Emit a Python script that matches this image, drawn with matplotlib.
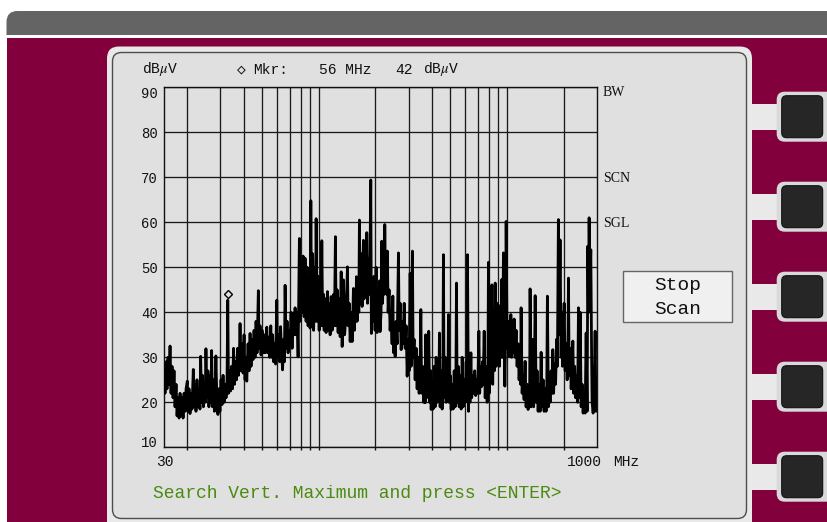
import matplotlib
matplotlib.use("Agg")
import matplotlib.pyplot as plt
from matplotlib.patches import FancyBboxPatch, Rectangle
from matplotlib.transforms import offset_copy

plt.rcParams['mathtext.fontset'] = 'stix'
MONO = ['Liberation Mono', 'DejaVu Sans Mono']
SERIF = ['Liberation Serif', 'DejaVu Serif']

# ---------------- data ----------------
trace_freq_mhz = [
    15.13, 15.22, 15.41, 15.60, 15.80, 15.99, 16.19, 16.39, 16.59, 16.80,
    17.00, 17.21, 17.43, 17.64, 17.86, 18.08, 18.30, 18.53, 18.76, 18.99,
    19.22, 19.46, 19.70, 20.00, 20.17, 20.42, 20.67, 20.93, 21.18, 21.52,
    21.70, 21.97, 22.24, 22.51, 22.79, 23.07, 23.35, 23.55, 23.78, 24.07,
    24.37, 24.67, 24.88, 25.12, 25.43, 25.74, 26.06, 26.40, 26.70, 26.93,
    27.20, 27.53, 27.87, 28.17, 28.38, 28.73, 29.09, 29.44, 29.81, 30.22,
    30.60, 30.97, 31.36, 31.74, 32.13, 32.52, 32.81, 33.13, 33.54, 33.95,
    34.37, 34.79, 35.22, 35.65, 36.09, 36.54, 36.99, 37.44, 37.80, 38.13,
    38.60, 39.08, 39.56, 40.05, 40.54, 41.04, 41.40, 42.06, 42.58, 43.10,
    43.63, 44.17, 44.71, 45.26, 45.82, 46.38, 46.95, 47.70, 48.12, 48.71,
    49.31, 49.92, 50.55, 51.18, 51.81, 52.90, 53.42, 54.07, 54.74, 55.55,
    56.10, 56.79, 57.49, 58.19, 58.91, 59.79, 60.37, 61.11, 61.86, 62.62,
    63.39, 64.17, 64.96, 65.60, 66.17, 66.98, 67.81, 68.64, 69.49, 70.34,
    71.21, 72.08, 72.97, 73.86, 74.77, 75.69, 76.63, 77.57, 78.82, 79.51,
    80.49, 81.48, 82.49, 83.50, 84.53, 85.57, 86.62, 87.69, 88.77, 89.86,
    90.67, 91.55, 92.68, 93.82, 94.97, 95.91, 96.74, 97.93, 99.13, 100.4,
    101.6, 102.8, 103.7, 104.8, 106.0, 106.7, 108.0, 109.3, 111.1, 112.1,
    113.4, 114.8, 116.2, 117.7, 119.9, 121.0, 122.5, 123.6, 125.1, 126.6,
    128.2, 129.8, 131.4, 133.0, 135.2, 137.1, 139.7, 141.9, 143.2, 144.9,
    146.7, 148.5, 150.3, 152.7, 154.6, 155.9, 157.3, 158.4, 159.7, 161.7,
    163.1, 164.3, 165.7, 167.7, 169.8, 172.5, 174.0, 176.1, 178.3, 179.8,
    181.6, 183.8, 186.1, 188.8, 190.2, 191.8, 194.2, 196.6, 199.0, 201.5,
    203.9, 206.4, 208.2, 210.3, 211.5, 214.1, 216.0, 218.1, 220.8, 222.5,
    224.1, 226.3, 229.1, 230.2, 231.4, 233.4, 236.2, 239.1, 242.1, 245.0,
    247.3, 249.7, 252.8, 254.4, 257.5, 260.7, 264.9, 267.2, 270.5, 273.8,
    277.2, 280.3, 284.1, 287.6, 291.1, 294.7, 298.4, 301.8, 305.6, 309.3,
    314.3, 317.0, 320.9, 324.9, 328.9, 332.9, 337.0, 341.2, 345.3, 348.4,
    351.8, 356.2, 360.5, 365.0, 367.2, 369.5, 374.1, 378.7, 380.9, 383.7,
    388.1, 392.9, 395.3, 400.0, 404.9, 409.9, 414.9, 420.0, 425.2, 430.4,
    434.2, 437.4, 441.1, 446.5, 452.0, 455.9, 459.3, 463.2, 468.9, 474.7,
    480.5, 484.7, 488.3, 492.4, 498.5, 504.9, 511.1, 517.4, 523.8, 530.2,
    534.8, 538.7, 543.4, 550.1, 556.8, 563.7, 570.6, 577.7, 584.8, 592.0,
    599.3, 606.7, 611.9, 616.4, 624.0, 629.4, 635.5, 642.7, 649.1, 657.1,
    665.2, 673.4, 681.6, 690.0, 698.5, 708.6, 715.6, 724.4, 733.3, 740.5,
    746.9, 756.1, 765.4, 774.8, 784.4, 791.1, 796.9, 803.9, 813.9, 822.8,
    831.0, 839.3, 849.6, 856.7, 865.4, 876.1, 886.9, 897.8, 904.4, 911.1,
    919.0, 930.2, 938.4, 947.7, 957.0, 973.6, 982.9, 989.4, 1001, 1014,
    1022, 1035, 1042, 1048, 1058, 1071, 1077, 1091, 1104, 1118,
    1131, 1145, 1159, 1174, 1181, 1188, 1203, 1217, 1232, 1248,
    1263, 1279, 1294, 1310, 1318, 1326, 1343, 1359, 1371, 1385,
    1398, 1411, 1428, 1445, 1463, 1481, 1499, 1518, 1536, 1555,
    1574, 1594, 1613, 1627, 1639, 1659, 1673, 1694, 1715, 1736,
    1751, 1768, 1790, 1812, 1834, 1852, 1875, 1891, 1914, 1938,
    1954, 1973, 2012, 2037, 2062, 2087, 2105, 2121, 2139, 2165,
    2192, 2219, 2238, 2260, 2288, 2316, 2345, 2373, 2397, 2417,
    2447, 2477, 2507, 2538, 2569, 2601, 2633, 2665, 2688, 2709,
    2731, 2754, 2788, 2816, 2833, 2868, 2903, 2939, 2968, 2998,
]
trace_level_dbuv = [
    26, 22, 29, 23, 30, 24, 32.5, 22, 28, 21,
    27, 19, 24, 17, 21, 16.5, 22, 17, 21, 16.5,
    22, 18, 23, 24.7, 18, 23, 17.5, 22, 18.5, 27.3,
    19, 24, 18, 25, 19, 23, 18.5, 30.2, 20, 26,
    19, 24, 20, 31.9, 21, 27, 19, 26, 20, 31.5,
    19, 25, 18, 24, 30.3, 20, 17.3, 23, 18, 25,
    19.5, 26, 20, 24, 21, 25, 42.7, 22, 27, 22.5,
    28, 23, 32, 24, 29, 25, 32, 26, 30, 37.5,
    27, 33, 26.5, 35, 25, 30, 24.7, 33, 27, 35.3,
    28, 34, 29.5, 36, 30, 38, 31, 44.8, 32, 37,
    30.5, 36, 31, 35, 31, 36.7, 31, 34.5, 30, 37,
    30, 35, 29, 33, 28.5, 42.7, 30, 35, 29, 36.8,
    31, 27.2, 34, 29, 46, 32, 38, 31, 36, 33,
    40, 32, 39.8, 35, 41, 35, 40, 30.1, 56.4, 38,
    51, 40, 52.5, 39, 52, 38, 50, 37, 48, 36.5,
    64.8, 37, 53, 36, 50, 38, 60.8, 38, 48, 36,
    46, 37, 55.9, 37, 44, 36, 43, 35.5, 44.6, 36,
    42, 35, 43.5, 36, 44, 37, 56.8, 37, 45, 35.5,
    43, 34.6, 49, 32.4, 47.2, 35, 40, 50.1, 37, 42,
    33.5, 40, 33.5, 45.3, 36, 44, 38, 47.9, 38, 46,
    40, 60.5, 42, 53, 41.3, 56, 43, 54, 44, 57.7,
    42, 52, 44, 69.4, 35.3, 46, 38, 48, 36, 50,
    35.5, 45, 38, 47, 35.7, 40, 55.8, 42, 50, 44,
    59.5, 45, 50, 44, 53.6, 40, 45, 36, 40, 33,
    43.6, 31, 36, 30.2, 38, 33, 53.2, 36, 42, 31.7,
    38, 33, 42, 32, 37, 25.8, 34, 27, 48.7, 28,
    53.6, 30, 34, 25, 32, 23, 30, 22, 28, 40.6,
    22, 28, 20, 26, 19.9, 35, 21, 29, 22, 35.8,
    20, 27, 18.4, 25, 18.5, 28, 19, 30, 20, 26,
    21, 35.4, 19, 27, 18.5, 25, 52.8, 21, 30, 20,
    28, 22, 39.5, 20, 26, 18.4, 24, 18.5, 27, 19,
    24, 46.5, 20, 28, 19, 26, 18.5, 30, 19, 25,
    20, 29, 22, 52.8, 18, 25, 20, 31, 21, 26,
    22, 27, 21.5, 25, 22, 35.8, 22, 28, 23.5, 29,
    24, 35.8, 21, 28, 20, 26, 51.1, 22, 32, 25,
    46.1, 24, 40, 27, 46.5, 28, 42, 30, 41.5, 28,
    38, 30, 47.3, 30, 53.2, 23.6, 35, 60.2, 32, 38,
    30.2, 36, 31, 39.5, 30, 38, 31, 38.5, 30, 36,
    28, 33, 25, 30, 24, 41, 22, 26, 20.6, 29.1,
    19, 24, 18.4, 22, 19, 45.2, 19, 24, 34, 19,
    26, 43.7, 20, 27, 18, 24, 18, 31.1, 19, 25,
    18, 23, 18, 24, 43.6, 19, 26, 20, 27, 22,
    31.7, 22, 28.5, 24, 34, 28, 60.6, 35, 56.1, 30,
    39.9, 28, 42, 27, 33, 25, 30, 47.6, 26, 32,
    23, 28, 33.6, 22, 28, 21, 26, 20, 41, 21,
    40, 19, 24, 17.6, 22, 17.6, 35.4, 18, 54.7, 40,
    61, 45, 53.9, 30, 20, 17.6, 22, 35.8, 18, 19,
]

marker_freq_mhz = 32.81
marker_level_dbuv = 42.7
header_parts = ["\u25C7", "Mkr:", "56 MHz", "42", r"dB$\mu$V"]
unit_label = r"dB$\mu$V"
y_ticks = [10, 20, 30, 40, 50, 60, 70, 80, 90]
x_end_labels = ["30", "1000", "MHz"]
side_labels = ["BW", "SCN", "SGL"]
side_levels = [90, 70, 60]
softkey_lines = ["Stop", "Scan"]
prompt_text = "Search Vert. Maximum and press <ENTER>"

# ---------------- layout ----------------
W, H = 827, 522
fig = plt.figure(figsize=(W / 100, H / 100), dpi=100)
fig.patch.set_facecolor('white')

bg = fig.add_axes([0, 0, 1, 1])
bg.set_xlim(0, W)
bg.set_ylim(H, 0)
bg.axis('off')

MAGENTA = '#82003c'
PANEL = '#e0e0e0'
RIM = '#e9e9e9'


def rbox(x, y, w, h, r, fc, ec='none', lw=0.0, z=1):
    p = FancyBboxPatch((x, y), w, h, boxstyle=f"round,pad=0,rounding_size={r}",
                       fc=fc, ec=ec, lw=lw, zorder=z)
    bg.add_patch(p)
    return p


rbox(6.5, 11, 900, 40, 11, '#646464')
bg.add_patch(Rectangle((0, 35), W, 3, fc='white', ec='none', zorder=1))
bg.add_patch(Rectangle((6.5, 38), W, H, fc=MAGENTA, ec='none', zorder=1))
bg.add_patch(Rectangle((0, 35), 6.5, 20, fc='white', ec='none', zorder=1))
rbox(107, 46.5, 645, 490, 12, RIM, z=2)
rbox(112.5, 52.5, 634, 466, 9, PANEL, ec='#4d4d4d', lw=1.0, z=3)

button_centers = [116.7, 206.7, 296.7, 386.7, 476.7]
for cy in button_centers:
    bg.add_patch(Rectangle((748, cy - 13), 34, 26, fc=RIM, ec='none', zorder=2))
    rbox(776.7, cy - 25, 60, 50, 8, '#d9d9d9', z=4)
    rbox(781.7, cy - 21, 41, 42, 5, '#262626', ec='#111111', lw=0.8, z=5)

bg.add_patch(Rectangle((622.7, 271), 109, 51, fc='#f0f0f0', ec='#666666', lw=1.0, zorder=4))
bg.text(677.7, 286, softkey_lines[0], ha='center', va='center', fontsize=14,
        family=MONO, color='#111111', zorder=6)
bg.text(677.7, 309, softkey_lines[1], ha='center', va='center', fontsize=14,
        family=MONO, color='#111111', zorder=6)

# header row
hdr_kw = dict(va='baseline', ha='left', fontsize=10.5, family=MONO, color='#111111', zorder=6)
bg.text(141.7, 73.5, unit_label, **hdr_kw)
header_x = [236.5, 253, 319, 395, 423]
for hx, part in zip(header_x, header_parts):
    bg.text(hx, 73.5, part, **hdr_kw)

# x end labels
bg.text(165.3, 462, x_end_labels[0], ha='center', va='center', fontsize=10.5, family=MONO, color='#111111', zorder=6)
bg.text(584.7, 462, x_end_labels[1], ha='center', va='center', fontsize=10.5, family=MONO, color='#111111', zorder=6)
bg.text(626.5, 462, x_end_labels[2], ha='center', va='center', fontsize=10.5, family=MONO, color='#111111', zorder=6)

bg.text(153, 494, prompt_text, ha='left', va='center', fontsize=13, family=MONO,
        color='#4b8b0f', zorder=6)

# ---------------- plot axes ----------------
L, R, T, B = 163.8, 596.8, 87.3, 447.3
ax = fig.add_axes([L / W, 1 - B / H, (R - L) / W, (B - T) / H])
ax.set_facecolor('none')
ax.set_zorder(10)
ax.set_xscale('log')
ax.set_xlim(15, 3000)
ax.set_ylim(10, 90)

grid_x = [m * 10 ** e for e in range(1, 4) for m in range(1, 10) if 15 < m * 10 ** e < 3000]
ax.set_xticks(grid_x)
ax.set_xticks([], minor=True)
ax.set_xticklabels([])
ax.tick_params(axis='x', length=2, width=1.0, direction='out', color='#111111')

ax.set_yticks(y_ticks)
ax.set_yticklabels([str(v) for v in y_ticks], fontsize=10, family=MONO, color='#111111')
ax.tick_params(axis='y', length=0, pad=4.3)
ylabels = ax.get_yticklabels()
ylabels[0].set_va('baseline')
ylabels[-1].set_va('top')

ax.grid(True, color='#1a1a1a', lw=0.95)
for s in ax.spines.values():
    s.set_color('#111111')
    s.set_linewidth(1.0)

ax.plot(trace_freq_mhz, trace_level_dbuv, color='black', lw=2.0, zorder=3)

mk_tr = offset_copy(ax.transData, fig=fig, x=0, y=4.3, units='points')
ax.plot([marker_freq_mhz], [marker_level_dbuv], ls='none', marker='D', ms=4.4,
        mfc=PANEL, mec='black', mew=1.0, transform=mk_tr, zorder=4)

side_dy = [-3.6, -1.2, -0.9]
for name, lvl, dy in zip(side_labels, side_levels, side_dy):
    ax.annotate(name, xy=(1, lvl), xycoords=('axes fraction', 'data'),
                xytext=(4.3, dy), textcoords='offset points', va='center', ha='left',
                fontsize=10, family=SERIF, color='#111111', annotation_clip=False)

fig.savefig('out.png', dpi=100, facecolor='white')
